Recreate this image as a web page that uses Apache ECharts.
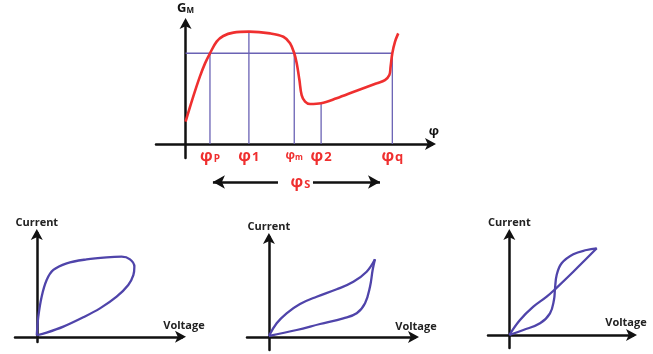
<!DOCTYPE html>
<html><head><meta charset="utf-8">
<script src="https://cdn.jsdelivr.net/npm/echarts@6/dist/echarts.min.js"></script>
<style>html,body{margin:0;padding:0;background:#fff}#c{width:653px;height:354px}</style>
</head><body><div id="c"></div>
<script>
// ---- Top panel data (phi vs G_M) ----
const gmCurve = [[0,15.9],[3.1,33.7],[5.8,48.0],[7.9,57.5],[9.9,64.7],[12.6,73.0],[15.3,77.0],[19.4,79.4],[25.7,80.1],[34.3,78.9],[39.7,76.5],[42.4,71.8],[44.1,64.7],[45.1,57.5],[46.2,45.6],[47.1,34.9],[48.5,30.2],[50.5,28.5],[55.0,29.0],[61.3,32.6],[69.4,38.0],[77.6,43.3],[80.9,45.6],[82.7,49.2],[83.2,55.1],[83.9,64.7],[85.0,73.0],[86.3,78.9]];
const phiTicks = [9.9, 25.7, 44.1, 55.0, 83.9];
const phiTickLabels = ['{b|φ}{p|P}', '{b|φ}{n|1}', '{sm|φ}{ss|m}', '{b|φ}{n|2}', '{b|φ}{n|q}'];
const phiTickTops = [64.7, 80.1, 64.7, 29.0, 64.7];
const threshold = 64.7;
const phiSArrowLeft = [37.5, 11.1];
const phiSArrowRight = [51.7, 78.9];
const phiSLabelX = 46.6;
// ---- Bottom panels (Voltage vs Current loops) ----
const loop1 = [[0,1.5],[1.05,19.4],[3.35,38.7],[6.8,54.7],[11.4,64.4],[20.6,70.8],[34.3,74.6],[48.1,76.6],[58.4,77.2],[64.2,74.6],[67.2,67.6],[66.5,59.5],[63.0,49.9],[55.0,38.7],[43.5,27.4],[32.0,18.8],[18.3,9.8],[6.8,4.0],[0,1.5]];
const loop2Up = [[0,1],[5.3,13.7],[12.1,23.7],[21.3,33],[32.7,40.3],[46.4,47.7],[57.8,55.3],[66.9,65.3],[72.6,77.7]];
const loop2Down = [[72.6,77.7],[71.0,67],[69.2,50.3],[65.8,33.7],[60.1,23.7],[50.9,18.7],[35.0,13],[19.0,7],[0,1]];
const loop3A = [[0,0],[7.5,15],[16.9,28.3],[26.3,38.3],[32.1,45.7],[45.0,63.3],[61.5,86.7]];
const loop3B = [[0,0],[9.9,5],[21.6,11.7],[28.6,21.7],[31.4,35],[32.1,45.7],[33.3,60],[36.8,71.7],[45.0,80.7],[54.4,85],[61.5,86.7]];
const xName = 'Voltage', yName = 'Current';

const RED = '#ef2f2f', BLUE_L = '#6a62b4', LOOP = '#4f44aa', AX = '#111';
const FONT = 'Open Sans';

const chart = echarts.init(document.getElementById('c'), null, {renderer: 'canvas'});

function axisLineStyle() {
  return {show: true, onZero: true, symbol: ['none', 'arrow'], symbolSize: [9, 11], symbolOffset: [0, 4],
          lineStyle: {color: AX, width: 2.5}};
}
function rs(size, pad) {
  return {fontFamily: FONT, fontWeight: 'bold', color: RED, fontSize: size, padding: pad || [0,0,0,0],
          textBorderWidth: 0, textBorderColor: 'transparent'};
}

const grids = [
  {left: 156, top: 22, width: 276, height: 136},   // top
  {left: 156, top: 172, width: 276, height: 20},   // phi_S arrows
  {left: 15, top: 233, width: 167, height: 109},   // loop1
  {left: 247, top: 237, width: 168, height: 113},  // loop2
  {left: 488, top: 233, width: 145, height: 115}   // loop3
];

const nameStyleX = (pad) => ({fontFamily: FONT, fontSize: 11, fontWeight: 'bold', color: '#222', align: 'center', verticalAlign: 'bottom', padding: pad});

const xAxes = [
  {gridIndex: 0, type: 'value', min: -12, max: 100, axisLine: axisLineStyle(), splitLine: {show: false},
   axisTick: {show: false},
   axisLabel: {show: true, customValues: phiTicks, margin: -10,
     formatter: v => phiTickLabels[phiTicks.indexOf(v)] || '',
     rich: {
       b: rs(16),
       p: rs(10, [6,0,0,1]),
       n: rs(13, [3,0,0,1]),
       sm: rs(12, [2,0,0,0]),
       ss: rs(8, [6,0,0,0])
     }},
   name: 'φ', nameLocation: 'end', nameGap: 2,
   nameTextStyle: {fontFamily: FONT, fontSize: 13, fontWeight: 'bold', color: AX, align: 'center', verticalAlign: 'bottom', padding: [0,0,6,0]}},
  {gridIndex: 1, type: 'value', min: -12, max: 100, show: false},
  {gridIndex: 2, type: 'value', min: -15, max: 100, axisLine: axisLineStyle(), axisTick: {show: false}, axisLabel: {show: false}, splitLine: {show: false},
   name: xName, nameLocation: 'end', nameGap: 2, nameTextStyle: nameStyleX([0,0,5,0])},
  {gridIndex: 3, type: 'value', min: -15, max: 100, axisLine: axisLineStyle(), axisTick: {show: false}, axisLabel: {show: false}, splitLine: {show: false},
   name: xName, nameLocation: 'end', nameGap: 1, nameTextStyle: nameStyleX([0,0,5,0])},
  {gridIndex: 4, type: 'value', min: -15, max: 87, axisLine: axisLineStyle(), axisTick: {show: false}, axisLabel: {show: false}, splitLine: {show: false},
   name: xName, nameLocation: 'end', nameGap: -7, nameTextStyle: nameStyleX([0,0,7,0])}
];

function yAx(gi, min, max, name, gap) {
  return {gridIndex: gi, type: 'value', min: min, max: max, axisLine: axisLineStyle(), axisTick: {show: false},
    axisLabel: {show: false}, splitLine: {show: false}, name: name, nameLocation: 'end', nameGap: gap,
    nameTextStyle: {fontFamily: FONT, fontSize: name === yName ? 11 : 13, fontWeight: 'bold', color: name === yName ? '#222' : AX,
      rich: {s: {fontFamily: FONT, fontSize: 8, fontWeight: 'bold', color: AX, padding: [5,0,0,0]}}}};
}
const yAxes = [
  yAx(0, -10, 87, 'G{s|M}', 7),
  {gridIndex: 1, type: 'value', min: -1, max: 1, show: false},
  yAx(2, -5, 100, yName, 5),
  yAx(3, -13, 100, yName, 5),
  yAx(4, -13, 102, yName, 5)
];

function line(data, xi, color, width, smooth) {
  return {type: 'line', xAxisIndex: xi, yAxisIndex: xi, data: data, showSymbol: false, symbol: 'none',
    smooth: smooth, lineStyle: {color: color, width: width}, z: 3, silent: true, clip: false};
}

const series = [];
series.push(line([[0, threshold], [phiTicks[4], threshold]], 0, BLUE_L, 1.3, false));
phiTicks.forEach((x, i) => series.push(line([[x, 0], [x, phiTickTops[i]]], 0, BLUE_L, 1.3, false)));
series.push(Object.assign(line(gmCurve, 0, RED, 2.6, 0.35), {z: 5}));
series.push({type: 'line', xAxisIndex: 1, yAxisIndex: 1, data: [], silent: true,
  markLine: {silent: true, symbol: ['none', 'arrow'], symbolSize: [10, 12], lineStyle: {color: AX, width: 2.5, type: 'solid'}, label: {show: false},
    data: [[{coord: [phiSArrowLeft[0], 0]}, {coord: [phiSArrowLeft[1], 0]}], [{coord: [phiSArrowRight[0], 0]}, {coord: [phiSArrowRight[1], 0]}]]}});
series.push({type: 'scatter', xAxisIndex: 1, yAxisIndex: 1, data: [[phiSLabelX, 0]], symbolSize: 1, silent: true,
  itemStyle: {color: 'transparent'},
  label: {show: true, position: 'inside', formatter: '{b|φ}{s|S}', color: RED, textBorderWidth: 0, opacity: 1,
    rich: {b: rs(16), s: rs(11, [5,0,0,1])}}});
series.push(line(loop1, 2, LOOP, 2.3, 0.35));
series.push(line(loop2Up, 3, LOOP, 2.3, 0.4));
series.push(line(loop2Down, 3, LOOP, 2.3, 0.4));
series.push(line(loop3A, 4, LOOP, 2.3, 0.4));
series.push(line(loop3B, 4, LOOP, 2.3, 0.4));

chart.setOption({animation: false, backgroundColor: '#fff', grid: grids, xAxis: xAxes, yAxis: yAxes, series: series});
</script></body></html>
